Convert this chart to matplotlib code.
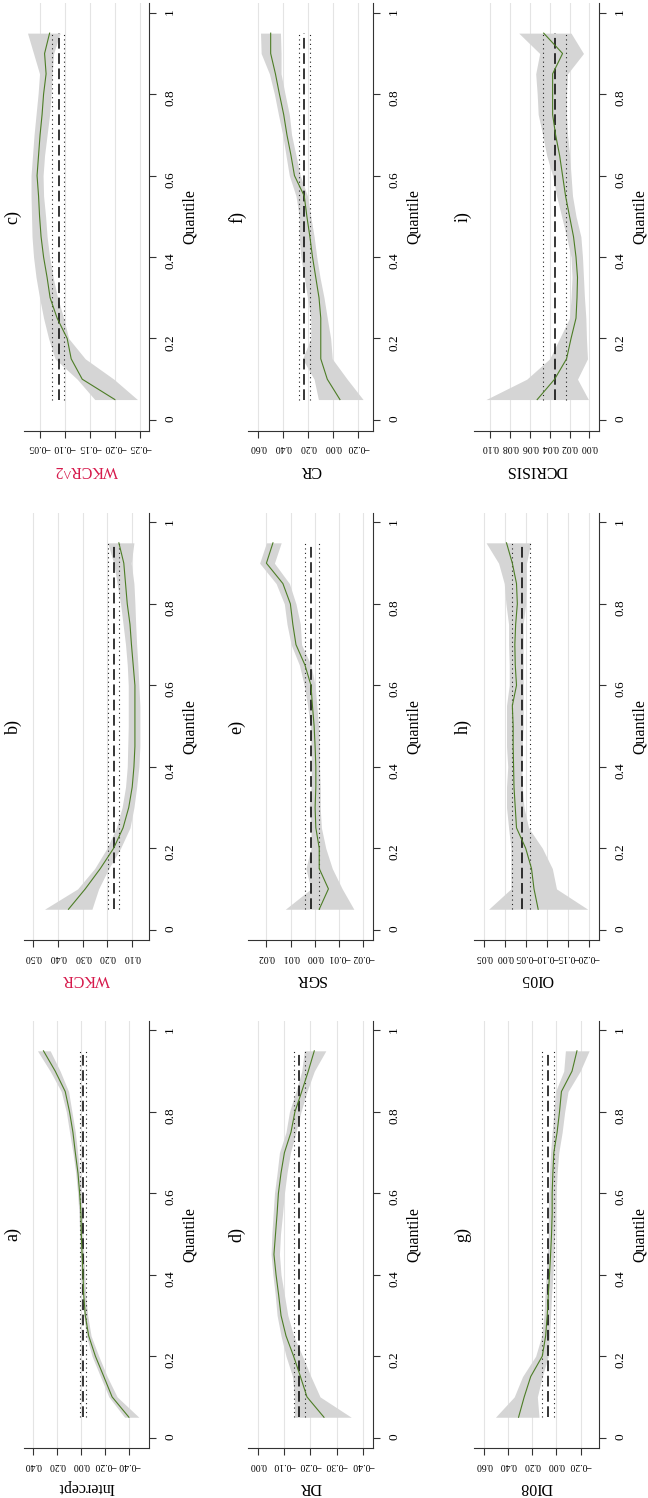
import numpy as np
import matplotlib
matplotlib.use('Agg')
import matplotlib.pyplot as plt

plt.rcParams['font.family'] = ['Liberation Serif', 'DejaVu Serif']

taus = [0.05, 0.10, 0.15, 0.20, 0.25, 0.30, 0.35, 0.40, 0.45, 0.50,
        0.55, 0.60, 0.65, 0.70, 0.75, 0.80, 0.85, 0.90, 0.95]

# a) Intercept
intercept_qr = [-0.396, -0.256, -0.187, -0.117, -0.061, -0.033, -0.020, -0.014, -0.006, 0.000,
                0.003, 0.014, 0.028, 0.050, 0.070, 0.098, 0.134, 0.217, 0.315]
intercept_lo = [-0.479, -0.298, -0.215, -0.145, -0.081, -0.053, -0.036, -0.028, -0.020, -0.014,
                -0.008, 0.000, 0.014, 0.031, 0.050, 0.078, 0.106, 0.176, 0.259]
intercept_hi = [-0.360, -0.229, -0.159, -0.089, -0.042, -0.020, -0.006, 0.000, 0.008, 0.014,
                0.020, 0.031, 0.047, 0.070, 0.098, 0.125, 0.167, 0.259, 0.365]
intercept_ols = [-0.014, -0.042, 0.014]

# b) WKCR
wkcr_qr = [0.358, 0.290, 0.229, 0.175, 0.137, 0.114, 0.100, 0.093, 0.089, 0.089,
           0.089, 0.089, 0.096, 0.103, 0.109, 0.120, 0.127, 0.134, 0.154]
wkcr_lo = [0.263, 0.236, 0.195, 0.147, 0.109, 0.093, 0.082, 0.073, 0.069, 0.069,
           0.069, 0.073, 0.077, 0.082, 0.086, 0.089, 0.093, 0.104, 0.093]
wkcr_hi = [0.455, 0.321, 0.252, 0.202, 0.164, 0.141, 0.127, 0.120, 0.118, 0.116,
           0.116, 0.116, 0.120, 0.127, 0.137, 0.147, 0.161, 0.175, 0.199]
wkcr_ols = [0.175, 0.154, 0.198]

# c) WKCR^2
wkcr2_qr = [-0.200, -0.135, -0.113, -0.105, -0.085, -0.071, -0.065, -0.058, -0.053, -0.050,
            -0.048, -0.045, -0.048, -0.051, -0.055, -0.058, -0.063, -0.060, -0.070]
wkcr2_lo = [-0.245, -0.198, -0.141, -0.108, -0.098, -0.086, -0.077, -0.070, -0.065, -0.062,
            -0.058, -0.057, -0.060, -0.065, -0.070, -0.073, -0.075, -0.078, -0.091]
wkcr2_hi = [-0.160, -0.125, -0.081, -0.068, -0.058, -0.050, -0.043, -0.038, -0.035, -0.034,
            -0.033, -0.033, -0.036, -0.039, -0.043, -0.047, -0.050, -0.038, -0.026]
wkcr2_ols = [-0.088, -0.099, -0.075]

# d) DR
dr_qr = [-0.252, -0.187, -0.162, -0.136, -0.107, -0.088, -0.079, -0.069, -0.061, -0.067,
         -0.073, -0.078, -0.088, -0.101, -0.126, -0.141, -0.167, -0.192, -0.215]
dr_lo = [-0.356, -0.237, -0.202, -0.170, -0.136, -0.114, -0.101, -0.088, -0.082, -0.086,
         -0.094, -0.101, -0.111, -0.124, -0.145, -0.164, -0.187, -0.215, -0.259]
dr_hi = [-0.139, -0.139, -0.132, -0.107, -0.088, -0.073, -0.066, -0.057, -0.050, -0.053,
         -0.058, -0.063, -0.073, -0.082, -0.107, -0.120, -0.145, -0.167, -0.177]
dr_ols = [-0.158, -0.179, -0.139]

# e) SGR
sgr_qr = [-0.0018, -0.0056, -0.0018, -0.0018, -0.0004, -0.0001, -0.0004, -0.0004, -0.0001, 0.0003,
          0.0010, 0.0016, 0.0041, 0.0078, 0.0091, 0.0101, 0.0132, 0.0200, 0.0173]
sgr_lo = [-0.0161, -0.0113, -0.0072, -0.0045, -0.0027, -0.0022, -0.0022, -0.0019, -0.0019, -0.0015,
          -0.0008, -0.0001, 0.0016, 0.0055, 0.0060, 0.0078, 0.0105, 0.0167, 0.0139]
sgr_hi = [0.0122, 0.0016, 0.0037, 0.0016, 0.0016, 0.0023, 0.0016, 0.0014, 0.0016, 0.0019,
          0.0030, 0.0044, 0.0064, 0.0098, 0.0115, 0.0126, 0.0160, 0.0228, 0.0200]
sgr_ols = [0.0014, -0.0018, 0.0041]

# f) CR
cr_qr = [-0.053, 0.048, 0.100, 0.100, 0.100, 0.114, 0.140, 0.166, 0.187, 0.211,
         0.232, 0.310, 0.338, 0.370, 0.396, 0.430, 0.462, 0.500, 0.500]
cr_lo = [-0.238, -0.111, 0.008, 0.021, 0.048, 0.074, 0.106, 0.132, 0.153, 0.180,
         0.206, 0.264, 0.298, 0.333, 0.351, 0.385, 0.417, 0.417, 0.422]
cr_hi = [0.119, 0.153, 0.246, 0.180, 0.180, 0.206, 0.232, 0.259, 0.272, 0.272,
         0.298, 0.351, 0.378, 0.404, 0.438, 0.470, 0.510, 0.576, 0.581]
cr_ols = [0.232, 0.185, 0.277]

# g) DI08
di08_qr = [0.315, 0.268, 0.214, 0.118, 0.090, 0.077, 0.068, 0.058, 0.049, 0.041,
           0.036, 0.036, 0.030, 0.022, -0.005, -0.025, -0.041, -0.129, -0.170]
di08_lo = [0.145, 0.159, 0.118, 0.068, 0.058, 0.049, 0.041, 0.030, 0.022, 0.014,
           0.008, 0.003, -0.005, -0.019, -0.047, -0.068, -0.096, -0.197, -0.271]
di08_hi = [0.507, 0.351, 0.282, 0.173, 0.123, 0.104, 0.096, 0.085, 0.077, 0.068,
           0.068, 0.063, 0.058, 0.049, 0.036, 0.022, 0.008, -0.060, -0.074]
di08_ols = [0.068, 0.022, 0.118]

# h) OI05
oi05_qr = [-0.079, -0.069, -0.063, -0.049, -0.027, -0.024, -0.021, -0.020, -0.019, -0.019,
           -0.017, -0.027, -0.024, -0.023, -0.025, -0.029, -0.027, -0.017, -0.003]
oi05_lo = [-0.198, -0.123, -0.113, -0.089, -0.056, -0.045, -0.041, -0.040, -0.041, -0.043,
           -0.043, -0.043, -0.043, -0.043, -0.043, -0.049, -0.051, -0.051, -0.061]
oi05_hi = [0.040, -0.0135, -0.0135, -0.0135, -0.008, -0.003, -0.003, -0.006, -0.003, -0.003,
           -0.003, -0.0095, -0.0095, -0.008, -0.008, -0.0016, 0.0024, 0.016, 0.046]
oi05_ols = [-0.040, -0.059, -0.016]

# i) DCRISIS
dcrisis_qr = [0.0525, 0.035, 0.023, 0.0185, 0.0135, 0.0125, 0.012, 0.0135, 0.016, 0.020,
              0.024, 0.027, 0.030, 0.034, 0.037, 0.037, 0.037, 0.027, 0.046]
dcrisis_lo = [0.001, 0.012, 0.002, 0.003, 0.0036, 0.005, 0.006, 0.007, 0.0086, 0.0135,
              0.017, 0.0185, 0.020, 0.022, 0.023, 0.023, 0.022, 0.006, 0.0185]
dcrisis_hi = [0.104, 0.063, 0.040, 0.030, 0.020, 0.0185, 0.0175, 0.0185, 0.023, 0.028,
              0.033, 0.037, 0.043, 0.047, 0.0515, 0.0525, 0.054, 0.050, 0.071]
dcrisis_ols = [0.035, 0.0234, 0.0465]

quant_ticks = [0, 0.2, 0.4, 0.6, 0.8, 1]
quant_labels = ['0', '0.2', '0.4', '0.6', '0.8', '1']

# letter, label, qr, lo, hi, ols, coefficient ticks
panels = [
    ('a', 'Intercept', intercept_qr, intercept_lo, intercept_hi, intercept_ols, [-0.4, -0.2, 0.0, 0.2, 0.4]),
    ('b', 'WKCR', wkcr_qr, wkcr_lo, wkcr_hi, wkcr_ols, [0.1, 0.2, 0.3, 0.4, 0.5]),
    ('c', 'WKCR^2', wkcr2_qr, wkcr2_lo, wkcr2_hi, wkcr2_ols, [-0.25, -0.2, -0.15, -0.1, -0.05]),
    ('d', 'DR', dr_qr, dr_lo, dr_hi, dr_ols, [-0.4, -0.3, -0.2, -0.1, 0.0]),
    ('e', 'SGR', sgr_qr, sgr_lo, sgr_hi, sgr_ols, [-0.02, -0.01, 0.0, 0.01, 0.02]),
    ('f', 'CR', cr_qr, cr_lo, cr_hi, cr_ols, [-0.2, 0.0, 0.2, 0.4, 0.6]),
    ('g', 'DI08', di08_qr, di08_lo, di08_hi, di08_ols, [-0.2, 0.0, 0.2, 0.4, 0.6]),
    ('h', 'OI05', oi05_qr, oi05_lo, oi05_hi, oi05_ols, [-0.2, -0.15, -0.1, -0.05, 0.0, 0.05]),
    ('i', 'DCRISIS', dcrisis_qr, dcrisis_lo, dcrisis_hi, dcrisis_ols, [0.0, 0.02, 0.04, 0.06, 0.08, 0.10]),
]

# value range of each panel (left edge, right edge) -- the page is turned, so values grow to the left
limits = {
    'a': (0.477, -0.563), 'b': (0.538, 0.032), 'c': (-0.019, -0.268),
    'd': (0.038, -0.439), 'e': (0.0276, -0.024), 'f': (0.681, -0.317),
    'g': (0.685, -0.353), 'h': (0.075, -0.225), 'i': (0.116, -0.0096),
}
red_labels = ['WKCR', 'WKCR^2']

W, H = 648.0, 1498.0
col_left = [24, 248, 474]
band_top = [3, 512.7, 1020.7]
ax_w, ax_h = 125.0, 427.5

fig = plt.figure(figsize=(W / 100, H / 100), dpi=100)

for k, (letter, name, qr, lo, hi, ols, ticks) in enumerate(panels):
    row, col = divmod(k, 3)
    # original landscape layout turned a quarter to the left
    cx = row
    band = 2 - col
    ax = fig.add_axes([col_left[cx] / W, 1 - (band_top[band] + ax_h) / H, ax_w / W, ax_h / H])

    ax.fill_betweenx(taus, lo, hi, color='#d5d5d5', lw=0, zorder=1)
    ax.plot(qr, taus, color='#4d7d26', lw=0.8, zorder=3)
    ax.plot([ols[0], ols[0]], [taus[0], taus[-1]], color='black', lw=1.1, ls=(0, (7, 3)), zorder=2)
    for v in ols[1:]:
        ax.plot([v, v], [taus[0], taus[-1]], color='#222222', lw=0.8, ls=(0, (1, 3)), zorder=2)

    ax.set_xlim(limits[letter])
    ax.set_ylim(-0.026, 1.024)
    ax.set_xticks(ticks)
    ax.set_xticklabels([f'{t:.2f}'.replace('-', '\u2212') for t in ticks])
    ax.set_yticks(quant_ticks)
    ax.set_yticklabels(quant_labels)
    ax.yaxis.tick_right()
    ax.grid(axis='x', color='#e4e4e4', lw=0.8)
    ax.set_axisbelow(True)

    for s in ['top', 'left']:
        ax.spines[s].set_visible(False)
    for s in ['bottom', 'right']:
        ax.spines[s].set_color('#333333')
        ax.spines[s].set_linewidth(0.8)
    ax.tick_params(axis='x', direction='out', length=5, width=0.8, color='#333333',
                   labelsize=7, labelrotation=180, pad=4)
    ax.tick_params(axis='y', direction='out', length=5, width=0.8, color='#333333',
                   labelsize=9.5, labelrotation=90, pad=6)

    lab_col = '#d6194b' if name in red_labels else 'black'
    ax.text(0.5, -39 / ax_h, name, rotation=180, ha='center', va='center',
            transform=ax.transAxes, fontsize=11.5, color=lab_col)
    ax.text(1 + 41 / ax_w, 0.5, 'Quantile', rotation=90, ha='center', va='center',
            transform=ax.transAxes, fontsize=11.5)
    ax.text(-11 / ax_w, 0.5, letter + ')', rotation=90, ha='center', va='center',
            transform=ax.transAxes, fontsize=13)

fig.savefig('out.png', dpi=100, facecolor='w')
